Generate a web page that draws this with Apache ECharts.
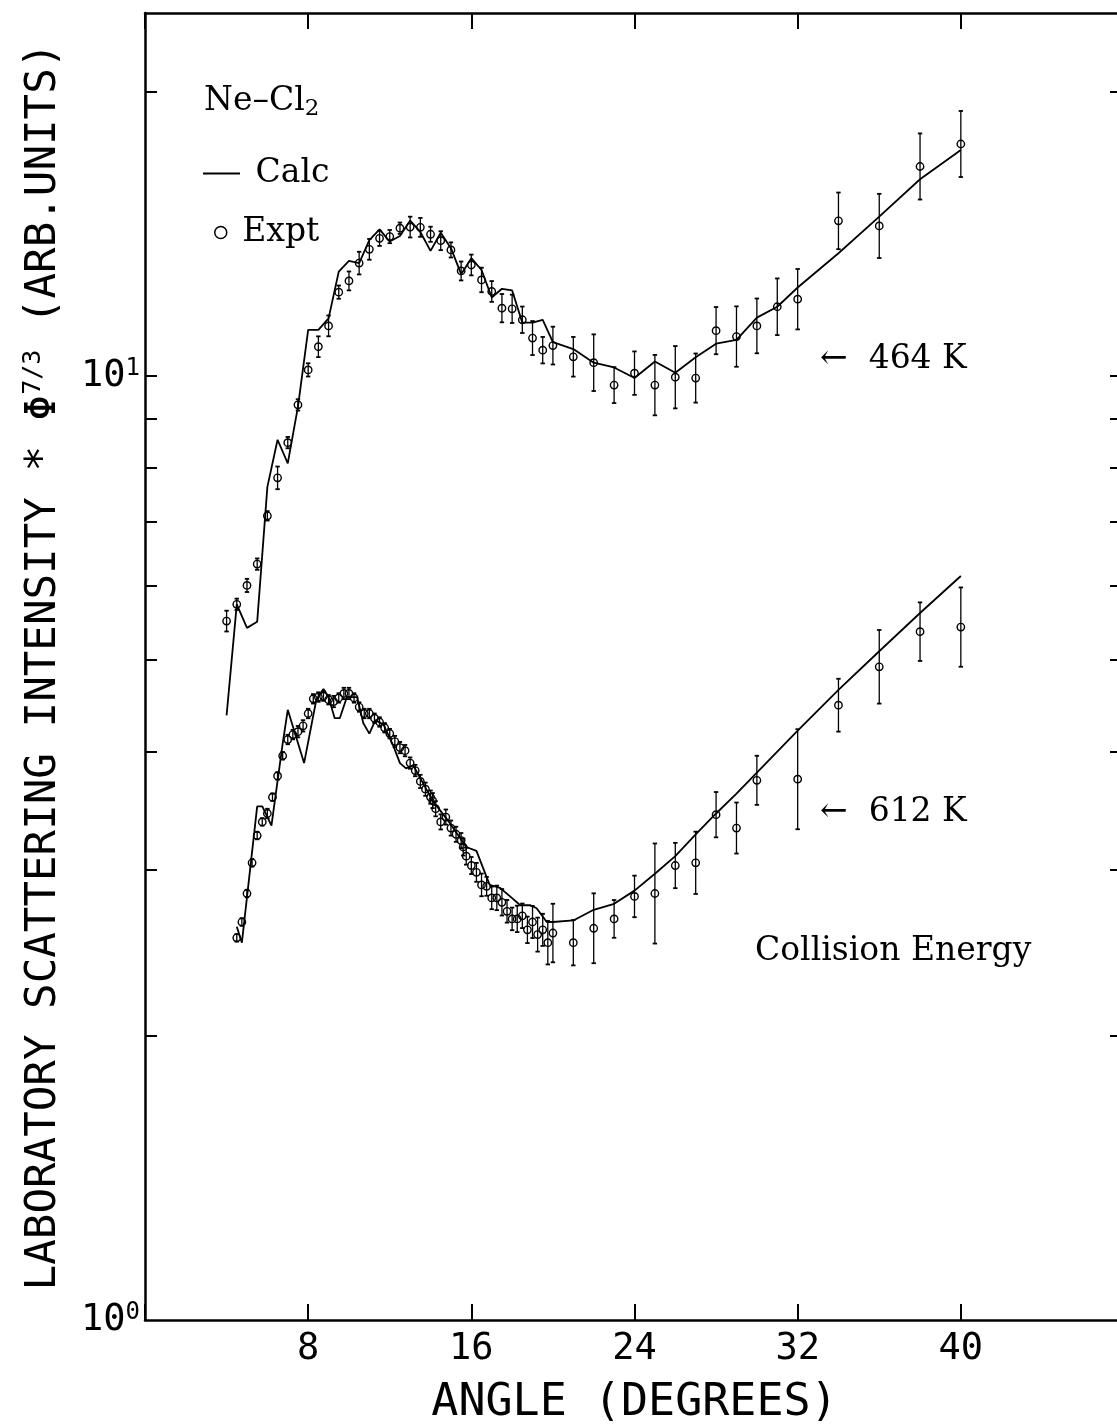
<!DOCTYPE html>
<html>
<head>
<meta charset="utf-8">
<script src="https://cdn.jsdelivr.net/npm/echarts@6/dist/echarts.min.js"></script>
<style>
html,body{margin:0;padding:0;overflow:hidden;background:#fff;}
#c{width:1135px;height:1427px;}
</style>
</head>
<body>
<div id="c"></div>
<script>
// ---- axis ticks ----
const xTickValues = [8, 16, 24, 32, 40];
const yTickValues = [2, 3, 4, 5, 6, 7, 8, 9, 10, 20];
const yLabelValues = [1, 10];

// ---- 464 K experiment (angle deg, intensity, error half-width in log10 units) ----
const upAngle = [4,4.5,5,5.5,6,6.5,7,7.5,8,8.5,9,9.5,10,10.5,11,11.5,12,12.5,13,13.5,14,14.5,15,15.5,16,16.5,17,17.5,18,18.5,19,19.5,20,21,22,23,24,25,26,27,28,29,30,31,32,34,36,38,40];
const upValue = [5.50,5.73,6.00,6.32,7.11,7.80,8.50,9.32,10.15,10.74,11.30,12.27,12.61,13.17,13.62,13.99,14.05,14.34,14.38,14.37,14.13,13.91,13.60,12.92,13.11,12.64,12.29,11.80,11.78,11.47,10.97,10.65,10.77,10.48,10.33,9.78,10.07,9.78,9.97,9.95,11.17,11.01,11.30,11.84,12.06,14.60,14.42,16.67,17.61];
const upErr = [.011,.006,.007,.006,.005,.012,.006,.006,.007,.011,.011,.007,.010,.012,.011,.008,.007,.006,.011,.010,.008,.010,.008,.010,.011,.013,.011,.015,.015,.014,.018,.014,.020,.021,.030,.019,.023,.032,.033,.026,.025,.032,.029,.030,.032,.030,.034,.035,.035];

// ---- 464 K calculation ----
const upCalcAngle = [4,4.5,5,5.5,6,6.5,7,7.5,8,8.5,9,9.5,10,10.5,11,11.5,12,12.5,13,13.5,14,14.5,15,15.5,16,16.5,17,17.5,18,18.5,19,19.5,20,21,22,23,24,25,26,27,28,29,30,31,32,34,36,38,40];
const upCalcValue = [4.37,5.73,5.41,5.49,7.63,8.56,8.08,9.28,11.19,11.19,11.51,12.90,13.24,13.17,13.93,14.30,13.88,14.07,14.61,14.21,13.57,14.18,13.66,12.82,13.33,12.95,12.11,12.37,12.32,11.39,11.39,11.47,10.86,10.68,10.33,10.21,9.95,10.36,10.08,10.47,10.82,10.92,11.53,11.84,12.41,13.49,14.75,16.16,17.35];

// ---- 612 K experiment ----
const loAngle = [4.5,4.75,5,5.25,5.5,5.75,6,6.25,6.5,6.75,7,7.25,7.5,7.75,8,8.25,8.5,8.75,9,9.25,9.5,9.75,10,10.25,10.5,10.75,11,11.25,11.5,11.75,12,12.25,12.5,12.75,13,13.25,13.5,13.75,14,14.1,14.25,14.5,14.75,15,15.25,15.5,15.6,15.75,16,16.25,16.5,16.75,17,17.25,17.5,17.75,18,18.25,18.5,18.75,19,19.25,19.5,19.75,20,21,22,23,24,25,26,27,28,29,30,32,34,36,38,40];
const loValue = [2.54,2.64,2.83,3.05,3.26,3.37,3.44,3.58,3.77,3.96,4.12,4.17,4.20,4.26,4.39,4.55,4.57,4.58,4.54,4.52,4.56,4.61,4.61,4.56,4.46,4.39,4.39,4.34,4.30,4.24,4.18,4.10,4.04,4.01,3.89,3.82,3.72,3.65,3.58,3.55,3.48,3.37,3.41,3.32,3.27,3.22,3.17,3.10,3.03,2.98,2.89,2.88,2.80,2.80,2.77,2.71,2.66,2.66,2.68,2.59,2.64,2.56,2.59,2.51,2.57,2.51,2.60,2.66,2.81,2.83,3.03,3.05,3.43,3.32,3.73,3.74,4.48,4.92,5.36,5.42];
const loErr = [.004,.004,.004,.004,.004,.004,.005,.004,.004,.004,.005,.005,.006,.006,.005,.005,.005,.005,.005,.006,.005,.006,.006,.005,.005,.005,.005,.005,.005,.005,.005,.006,.006,.006,.006,.006,.007,.007,.007,.008,.008,.008,.008,.008,.008,.008,.009,.009,.009,.010,.012,.010,.012,.013,.014,.012,.012,.014,.013,.014,.017,.018,.017,.023,.031,.024,.037,.020,.022,.053,.024,.033,.024,.027,.026,.053,.028,.039,.031,.042];

// ---- 612 K calculation ----
const loCalcAngle = [4.5,4.75,5.5,5.75,6.2,6.75,7,7.8,8.4,8.75,9,9.3,9.55,9.9,10.4,10.7,11,11.3,11.7,12.15,12.5,12.8,13.15,14.1,14.95,15.75,16.25,16.9,17.4,17.9,18.4,18.9,19.2,19.7,20,21,22,23,24,25,26,27,28,29,30,32,34,36,38,40];
const loCalcValue = [2.61,2.51,3.50,3.50,3.34,4.08,4.43,3.89,4.54,4.66,4.57,4.34,4.34,4.57,4.57,4.29,4.18,4.32,4.27,4.07,3.89,3.84,3.87,3.55,3.36,3.17,3.14,2.89,2.87,2.81,2.75,2.75,2.73,2.64,2.64,2.65,2.72,2.76,2.85,2.97,3.10,3.27,3.44,3.61,3.80,4.21,4.65,5.11,5.61,6.14];

const pairs = (a, b) => a.map((x, i) => [x, b[i]]);
const triples = (a, b, c) => a.map((x, i) => [x, b[i], c[i]]);

const MONO = '"DejaVu Sans Mono", "Liberation Mono", monospace';
const SERIF = '"DejaVu Serif", "Liberation Serif", serif';

function renderExpt(params, api) {
  const x = api.value(0), y = api.value(1), e = api.value(2);
  const f = Math.pow(10, e);
  const p = api.coord([x, y]);
  const t = api.coord([x, y * f]);
  const b = api.coord([x, y / f]);
  const cap = 2.2;
  const ls = {stroke: '#000', lineWidth: 1.3};
  return {
    type: 'group',
    children: [
      {type: 'line', shape: {x1: p[0], y1: t[1], x2: p[0], y2: b[1]}, style: ls},
      {type: 'line', shape: {x1: p[0] - cap, y1: t[1], x2: p[0] + cap, y2: t[1]}, style: {stroke: '#000', lineWidth: 1.8}},
      {type: 'line', shape: {x1: p[0] - cap, y1: b[1], x2: p[0] + cap, y2: b[1]}, style: {stroke: '#000', lineWidth: 1.8}},
      {type: 'circle', shape: {cx: p[0], cy: p[1], r: 3.7}, style: {fill: 'none', stroke: '#000', lineWidth: 1.4}}
    ]
  };
}

const chart = echarts.init(document.getElementById('c'), null, {renderer: 'canvas'});
const yMax = 24.24;
const axisLine = {show: true, onZero: false, lineStyle: {color: '#000', width: 2.5}};

chart.setOption({
  animation: false,
  backgroundColor: '#fff',
  grid: {left: 145, right: 11, top: 13, bottom: 107, containLabel: false, outerBoundsMode: 'none'},
  xAxis: [
    {
      type: 'value', min: 0, max: 48, interval: 8, position: 'bottom',
      axisLine: axisLine,
      axisTick: {show: true, inside: true, length: 16, lineStyle: {color: '#000', width: 2}},
      axisLabel: {
        customValues: xTickValues, margin: 11, color: '#000',
        fontFamily: MONO, fontSize: 37
      },
      splitLine: {show: false},
      name: 'ANGLE (DEGREES)', nameLocation: 'middle', nameGap: 61,
      nameTextStyle: {fontFamily: MONO, fontSize: 45, color: '#000'}
    },
    {
      type: 'value', min: 0, max: 48, interval: 8, position: 'top',
      axisLine: axisLine,
      axisTick: {show: true, inside: true, length: 16, lineStyle: {color: '#000', width: 2}},
      axisLabel: {show: false}, splitLine: {show: false}
    }
  ],
  yAxis: [
    {
      type: 'log', logBase: 10, min: 1, max: yMax, position: 'left',
      axisLine: axisLine,
      axisTick: {show: true, inside: true, length: 12, customValues: yTickValues, lineStyle: {color: '#000', width: 2}},
      minorTick: {show: false},
      axisLabel: {
        customValues: yLabelValues, margin: 5, color: '#000',
        formatter: v => '{b|10}{s|' + Math.round(Math.log10(v)) + '}',
        rich: {
          b: {fontFamily: MONO, fontSize: 37, lineHeight: 38, color: '#000'},
          s: {fontFamily: MONO, fontSize: 24, lineHeight: 24, verticalAlign: 'top', color: '#000'}
        }
      },
      splitLine: {show: false},
      name: '{t|LABORATORY SCATTERING INTENSITY * Φ}{s|7/3}{t| (ARB.UNITS)}',
      nameLocation: 'middle', nameGap: 78, nameRotate: 90,
      nameTextStyle: {
        color: '#000',
        rich: {
          t: {fontFamily: MONO, fontSize: 42.5, lineHeight: 46, color: '#000'},
          s: {fontFamily: MONO, fontSize: 25, lineHeight: 25, verticalAlign: 'top', color: '#000'}
        }
      }
    },
    {
      type: 'log', logBase: 10, min: 1, max: yMax, position: 'right',
      axisLine: axisLine,
      axisTick: {show: true, inside: true, length: 14, customValues: yTickValues, lineStyle: {color: '#000', width: 2}},
      axisLabel: {show: false}, splitLine: {show: false}
    }
  ],
  legend: [
    {
      data: [{name: 'Calc', icon: 'rect', itemStyle: {color: '#000'}}],
      left: 203, top: 157, padding: 0, itemWidth: 37, itemHeight: 2,
      selectedMode: false, formatter: n => ' ' + n,
      textStyle: {fontFamily: SERIF, fontSize: 33, color: '#000'}
    },
    {
      data: [{name: 'Expt', icon: 'circle', itemStyle: {color: '#fff', borderColor: '#000', borderWidth: 1.5}}],
      left: 214, top: 216, padding: 0, itemWidth: 12, itemHeight: 12,
      selectedMode: false, formatter: n => ' ' + n,
      textStyle: {fontFamily: SERIF, fontSize: 33, color: '#000'}
    }
  ],
  graphic: [
    {type: 'text', x: 204, y: 101, style: {
      text: '{a|Ne–Cl}{b|2}', verticalAlign: 'middle',
      rich: {
        a: {fontFamily: SERIF, fontSize: 33, lineHeight: 40, fill: '#000'},
        b: {fontFamily: SERIF, fontSize: 23, lineHeight: 20, verticalAlign: 'bottom', fill: '#000'}
      }
    }},
    {type: 'text', x: 820, y: 359, style: {text: '←  464 K', font: '33px ' + SERIF, fill: '#000', verticalAlign: 'middle'}},
    {type: 'text', x: 820, y: 812, style: {text: '←  612 K', font: '33px ' + SERIF, fill: '#000', verticalAlign: 'middle'}},
    {type: 'text', x: 755, y: 951, style: {text: 'Collision Energy', font: '33px ' + SERIF, fill: '#000', verticalAlign: 'middle'}}
  ],
  series: [
    {
      name: 'Calc', type: 'line', xAxisIndex: 0, yAxisIndex: 0,
      data: pairs(upCalcAngle, upCalcValue), symbol: 'none', showSymbol: false,
      lineStyle: {color: '#000', width: 1.8}, itemStyle: {color: '#000'}, z: 2
    },
    {
      name: 'Calc', type: 'line', xAxisIndex: 0, yAxisIndex: 0,
      data: pairs(loCalcAngle, loCalcValue), symbol: 'none', showSymbol: false,
      lineStyle: {color: '#000', width: 1.8}, itemStyle: {color: '#000'}, z: 2
    },
    {
      name: 'Expt', type: 'custom', xAxisIndex: 0, yAxisIndex: 0,
      data: triples(upAngle, upValue, upErr), encode: {x: 0, y: 1},
      renderItem: renderExpt, itemStyle: {color: '#000'}, z: 3
    },
    {
      name: 'Expt', type: 'custom', xAxisIndex: 0, yAxisIndex: 0,
      data: triples(loAngle, loValue, loErr), encode: {x: 0, y: 1},
      renderItem: renderExpt, itemStyle: {color: '#000'}, z: 3
    }
  ]
});
</script>
</body>
</html>
